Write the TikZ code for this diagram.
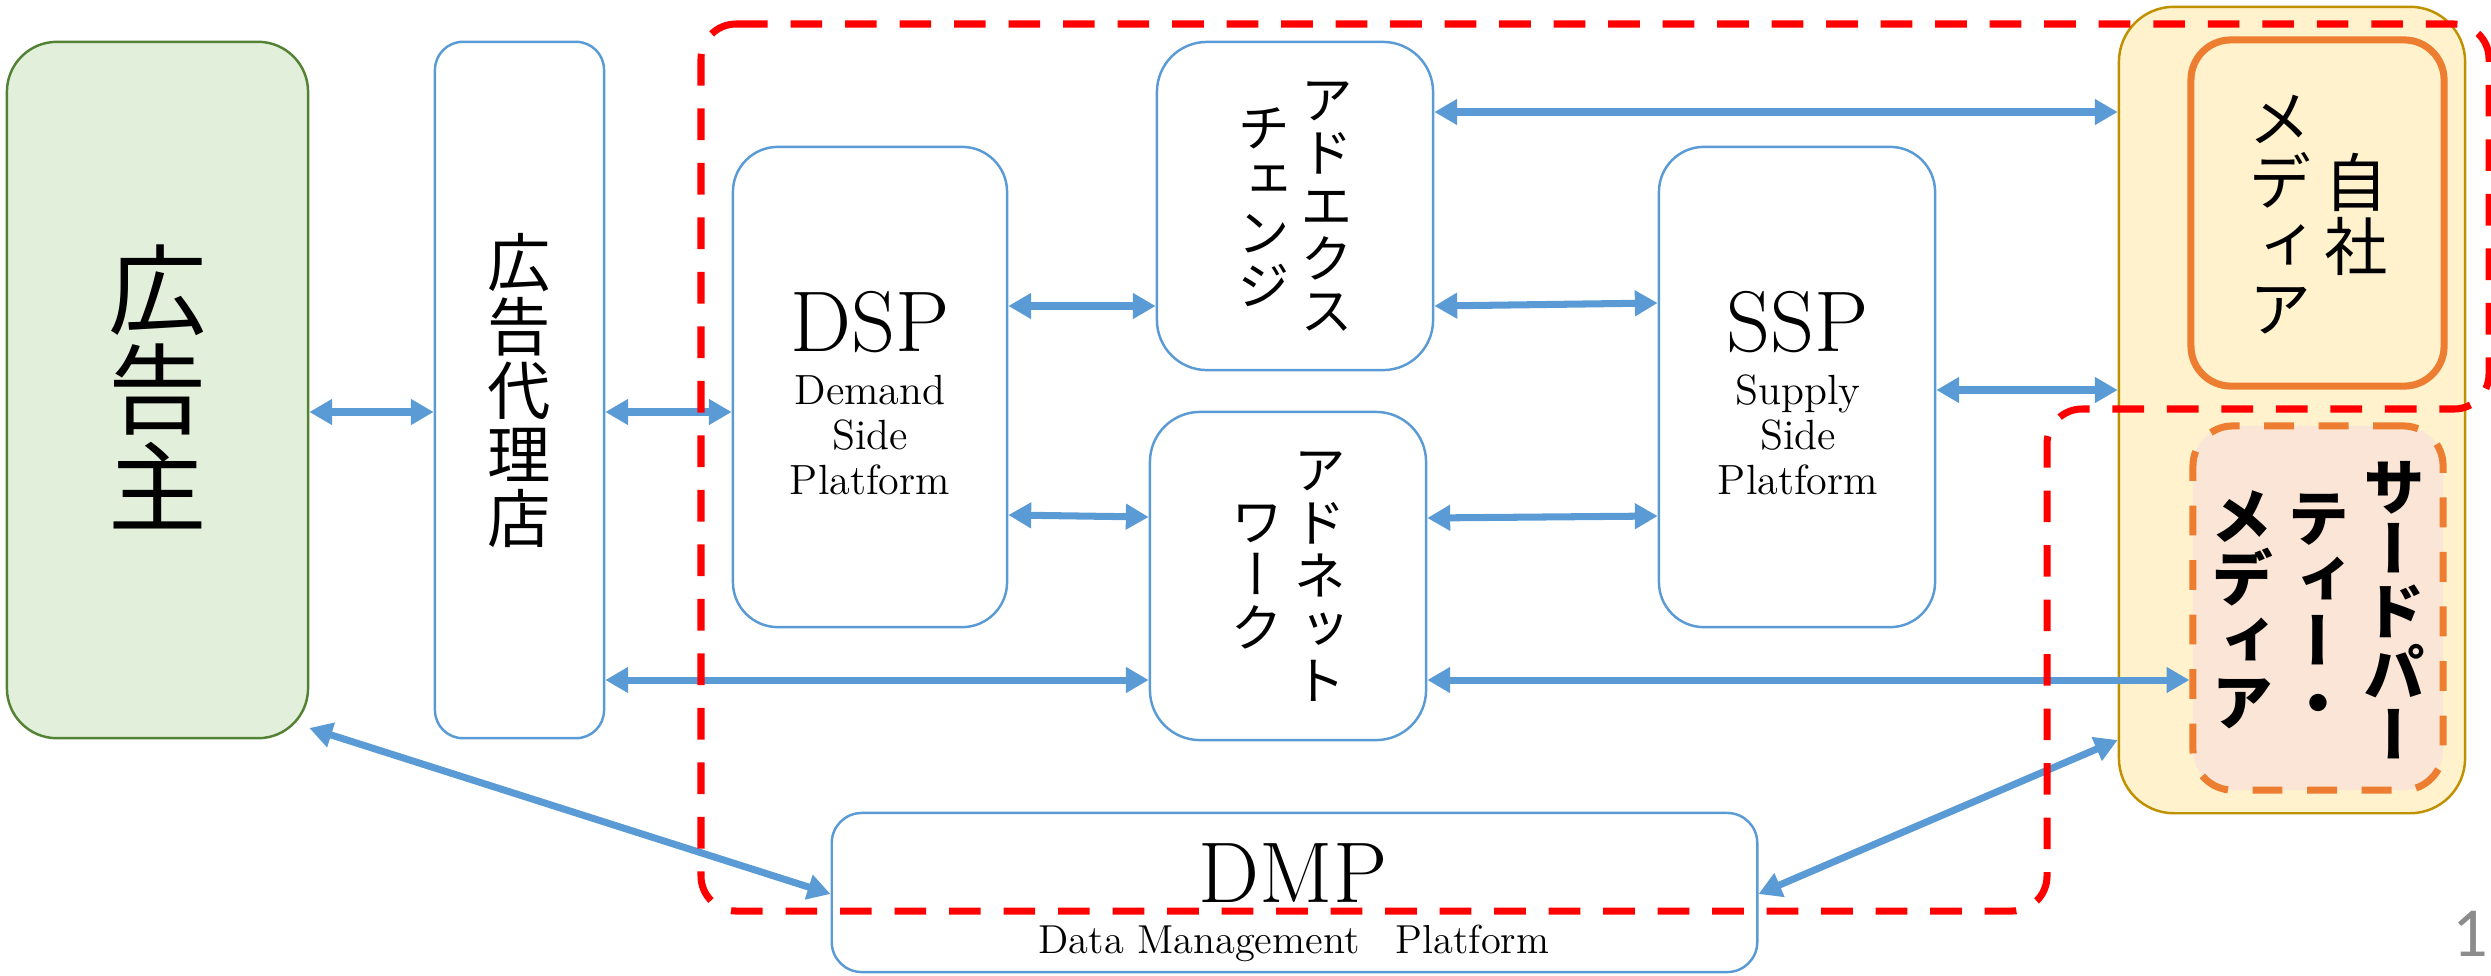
\documentclass[tikz,border=0pt]{standalone}
\usepackage{fontspec}
\usepackage{graphicx}
\usetikzlibrary{arrows.meta}
\newfontfamily\jp[RawFeature=+vert]{Noto Sans CJK JP}
\newfontfamily\pgfont{Carlito}
\definecolor{bblue}{HTML}{5B9BD5}
\definecolor{gfill}{HTML}{E2EFDA}
\definecolor{gline}{HTML}{548235}
\definecolor{yfill}{HTML}{FFF2CC}
\definecolor{yline}{HTML}{BF9000}
\definecolor{oline}{HTML}{ED7D31}
\definecolor{ofill}{HTML}{FBE5D6}
\definecolor{rline}{HTML}{FF0000}
\definecolor{pgray}{HTML}{8C8C8C}
\newcommand\tate[2]{\ensuremath{\vcenter{\baselineskip=#1\lineskiplimit=-\maxdimen\lineskip=0pt\halign{\hfil##\hfil\cr#2\crcr}}}}
\begin{document}
\begin{tikzpicture}[x=0.01cm,y=-0.01cm,
  bbox/.style={draw=bblue,line width=0.7pt,fill=white,inner sep=0pt},
  arr/.style={draw=bblue,line width=2pt,{Triangle[length=6.5pt,width=7pt]}-{Triangle[length=6.5pt,width=7pt]}},
  jt/.style={inner sep=0pt},
  lt/.style={inner sep=0pt,anchor=base},
  reddash/.style={draw=rline,line width=2pt,dash pattern=on 9pt off 6.5pt,rounded corners=0.35cm}]
\useasboundingbox (0,0) rectangle (2491,975);
% boxes
\node[draw=gline,fill=gfill,line width=0.7pt,rounded corners=0.5cm,minimum width=3.01cm,minimum height=6.96cm,inner sep=0pt] (adv) at (157.5,390) {};
\node[bbox,rounded corners=0.28cm,minimum width=1.69cm,minimum height=6.96cm] (agency) at (519.5,390) {};
\node[bbox,rounded corners=0.45cm,minimum width=2.74cm,minimum height=4.8cm] (dsp) at (870,387) {};
\node[bbox,rounded corners=0.5cm,minimum width=2.76cm,minimum height=3.28cm] (adx) at (1295,206) {};
\node[bbox,rounded corners=0.5cm,minimum width=2.76cm,minimum height=3.28cm] (adnet) at (1288,576) {};
\node[bbox,rounded corners=0.45cm,minimum width=2.76cm,minimum height=4.8cm] (ssp) at (1797,387) {};
\node[bbox,rounded corners=0.3cm,minimum width=9.25cm,minimum height=1.59cm] (dmp) at (1294.5,892.5) {};
\node[draw=yline,fill=yfill,line width=0.7pt,rounded corners=0.55cm,minimum width=3.46cm,minimum height=8.06cm,inner sep=0pt] (media) at (2292,410) {};
\node[draw=oline,fill=yfill,line width=2pt,rounded corners=0.4cm,minimum width=2.53cm,minimum height=3.46cm,inner sep=0pt] (own) at (2317.5,213) {};
\node[draw=oline,fill=ofill,line width=2pt,dash pattern=on 8.5pt off 7pt,rounded corners=0.4cm,minimum width=2.5cm,minimum height=3.64cm,inner sep=0pt] (third) at (2318,608) {};
% arrows
\draw[arr] (adv.east |- 0,412) -- (agency.west |- 0,412);
\draw[arr] (agency.east |- 0,412) -- (dsp.west |- 0,412);
\draw[arr] (dsp.east |- 0,306) -- (adx.west |- 0,306);
\draw[arr] (dsp.east |- 0,515) -- (adnet.west |- 0,517);
\draw[arr] (adx.east |- 0,306) -- (ssp.west |- 0,303);
\draw[arr] (adnet.east |- 0,518) -- (ssp.west |- 0,516);
\draw[arr] (adx.east |- 0,112) -- (media.west |- 0,112);
\draw[arr] (ssp.east |- 0,390) -- (media.west |- 0,390);
\draw[arr] (agency.east |- 0,680) -- (adnet.west |- 0,680);
\draw[arr] (adnet.east |- 0,680) -- (third.west |- 0,680);
\draw[arr] (adv.east |- 0,728) -- (dmp.west |- 0,894);
\draw[arr] (dmp.east |- 0,894) -- (media.west |- 0,740);
% texts
\node[jt,font={\jp\fontsize{28}{28}\selectfont}] (advt) at (158,387) {\tate{28pt}{広\cr 告\cr 主}};
\node[jt,font={\jp\fontsize{18}{18}\selectfont}] (agt) at (519.5,390) {\tate{18.2pt}{広\cr 告\cr 代\cr 理\cr 店}};
\node[jt,font={\jp\fontsize{15}{15}\selectfont}] (adxt) at (1295.5,207) {\tate{15pt}{チ\cr ェ\cr ン\cr ジ}\hspace{3pt}\tate{15pt}{ア\cr ド\cr エ\cr ク\cr ス}};
\node[jt,font={\jp\fontsize{15}{15}\selectfont}] (adnett) at (1288.5,577) {\tate{15pt}{ワ\cr ー\cr ク}\hspace{3pt}\tate{15pt}{ア\cr ド\cr ネ\cr ッ\cr ト}};
\node[jt,font={\jp\fontsize{18}{18}\selectfont}] (ownt) at (2318.5,214.5) {\tate{18pt}{メ\cr デ\cr ィ\cr ア}\hspace{3.6pt}\tate{18pt}{自\cr 社}};
\node[jt,font={\jp\bfseries\fontsize{17.6}{17.6}\selectfont}] (thirdt) at (2318,610) {\tate{17.6pt}{メ\cr デ\cr ィ\cr ア}\hspace{4pt}\tate{17.6pt}{テ\cr ィ\cr ー\cr ・}\hspace{4pt}\tate{17.6pt}{サ\cr ー\cr ド\cr パ\cr ー}};
\node[lt,font=\fontsize{24.5}{25}\selectfont] (dspt) at (870,351) {DSP};
\node[lt,font=\fontsize{12}{13}\selectfont] (dspt1) at (870,404) {Demand};
\node[lt,font=\fontsize{12}{13}\selectfont] (dspt2) at (870,449) {Side};
\node[lt,font=\fontsize{12}{13}\selectfont] (dspt3) at (870,494) {Platform};
\node[lt,font=\fontsize{24.5}{25}\selectfont] (sspt) at (1798,351) {SSP};
\node[lt,font=\fontsize{12}{13}\selectfont] (sspt1) at (1798,404) {Supply};
\node[lt,font=\fontsize{12}{13}\selectfont] (sspt2) at (1798,449) {Side};
\node[lt,font=\fontsize{12}{13}\selectfont] (sspt3) at (1798,494) {Platform};
\node[lt,font=\fontsize{24.5}{25}\selectfont] (dmpt) at (1293,902) {DMP};
\node[lt,font=\fontsize{11.5}{12}\selectfont] (dmps) at (1294,953) {Data Management\hspace{0.9em}Platform};
\node[inner sep=0pt,anchor=base west,font={\pgfont\fontsize{20}{21}\selectfont},text=pgray] (pg) at (2452,956) {1};
% red dashed region
\draw[reddash] (701,24) -- (2489,24) -- (2489,409) -- (2047,409) -- (2047,911) -- (701,911) -- cycle;
\end{tikzpicture}
\end{document}
